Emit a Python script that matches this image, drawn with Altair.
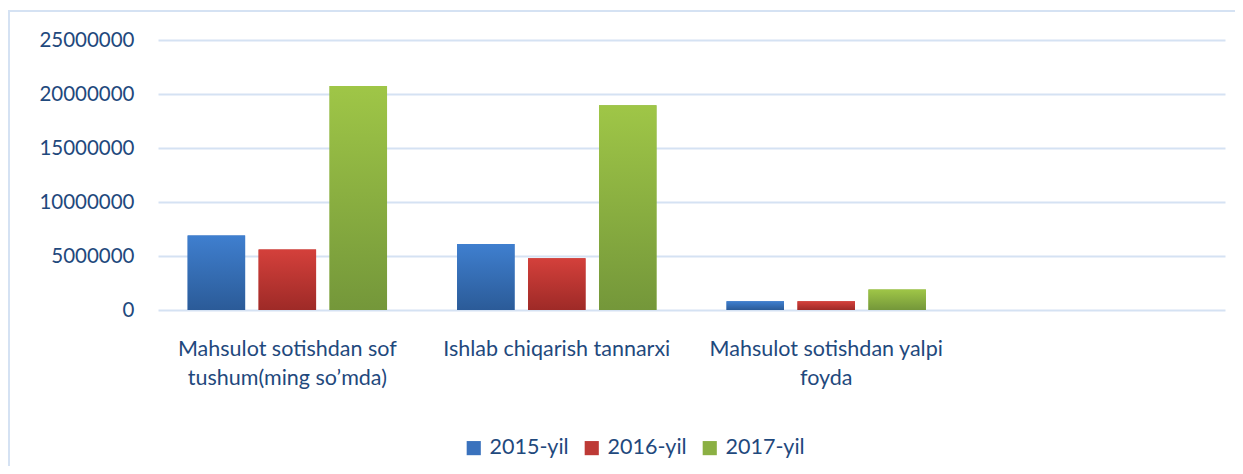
import altair as alt
import pandas as pd

categories = ["Mahsulot sotishdan sof|tushum(ming so’mda)",
              "Ishlab chiqarish tannarxi",
              "Mahsulot sotishdan yalpi|foyda",
              " "]
series = ["2015-yil", "2016-yil", "2017-yil"]
y2015 = [6900000, 6100000, 800000]
y2016 = [5600000, 4800000, 800000]
y2017 = [20750000, 18950000, 1900000]
y_ticks = [0, 5000000, 10000000, 15000000, 20000000, 25000000]

solid = ["#3A72BD", "#BD3A36", "#8BB043"]
grads = [("#3F7FCF", "#2B5B98"), ("#D4403B", "#9E2A27"), ("#9FC647", "#74973A")]

rows = []
for s, vals in zip(series, [y2015, y2016, y2017]):
    for c, v in zip(categories[:3], vals):
        rows.append({"cat": c, "series": s, "value": v})
df = pd.DataFrame(rows)

FONT = "Lato"
TXT = "#1F497D"
GRID = "#D5E2F3"

x_enc = alt.X("cat:N", sort=categories,
              scale=alt.Scale(domain=categories, paddingInner=0.26, paddingOuter=0.11),
              axis=alt.Axis(title=None, labelAngle=0, domain=False, ticks=False,
                            labelExpr="split(datum.label, '|')",
                            labelPadding=28, labelLineHeight=29,
                            labelFontSize=21.5, labelFont=FONT, labelColor=TXT,
                            labelLimit=400))
xo_enc = alt.XOffset("series:N", sort=series,
                     scale=alt.Scale(domain=series, paddingInner=0.19, paddingOuter=0))
y_enc = alt.Y("value:Q",
              scale=alt.Scale(domain=[0, 25000000], nice=False),
              axis=alt.Axis(title=None, values=y_ticks, format="d", domain=False,
                            ticks=False, labelPadding=24, labelFontSize=20.5,
                            labelFont=FONT, labelColor=TXT, gridColor=GRID,
                            gridWidth=2))

base = alt.Chart(df).mark_bar().encode(
    x=x_enc, xOffset=xo_enc, y=y_enc,
    color=alt.Color("series:N", sort=series,
                    scale=alt.Scale(domain=series, range=solid),
                    legend=alt.Legend(title=None, orient="none", direction="horizontal",
                                      legendX=305, legendY=397,
                                      symbolType="square", symbolSize=200,
                                      symbolStrokeWidth=0, symbolOpacity=1,
                                      labelFontSize=21.5, labelFont=FONT,
                                      labelColor=TXT, labelOffset=5,
                                      columnPadding=12))
)

layers = [base]
for s, (top, bot) in zip(series, grads):
    layers.append(
        alt.Chart(df).transform_filter(alt.datum.series == s).mark_bar(
            color=alt.Gradient(gradient="linear",
                               stops=[alt.GradientStop(color=top, offset=0),
                                      alt.GradientStop(color=bot, offset=1)],
                               x1=0, x2=0, y1=0, y2=1)
        ).encode(x=x_enc, xOffset=xo_enc, y=y_enc)
    )

frame_top = alt.Chart(df).mark_rule(color=GRID, strokeWidth=2, clip=False).encode(
    x=alt.value(-150), x2=alt.value(1085), y=alt.value(-29))
frame_left = alt.Chart(df).mark_rule(color=GRID, strokeWidth=2, clip=False).encode(
    x=alt.value(-149), y=alt.value(-29), y2=alt.value(430))

chart = alt.layer(*layers, frame_top, frame_left).properties(
    width=1067, height=270,
    autosize=alt.AutoSizeParams(type="none"),
    padding={"left": 150, "top": 32, "right": 10, "bottom": 156},
).configure_view(stroke=None).configure_axis(grid=True).configure_axisX(grid=False)

chart.save("out.html", embed_options={"renderer": "svg", "actions": False})
